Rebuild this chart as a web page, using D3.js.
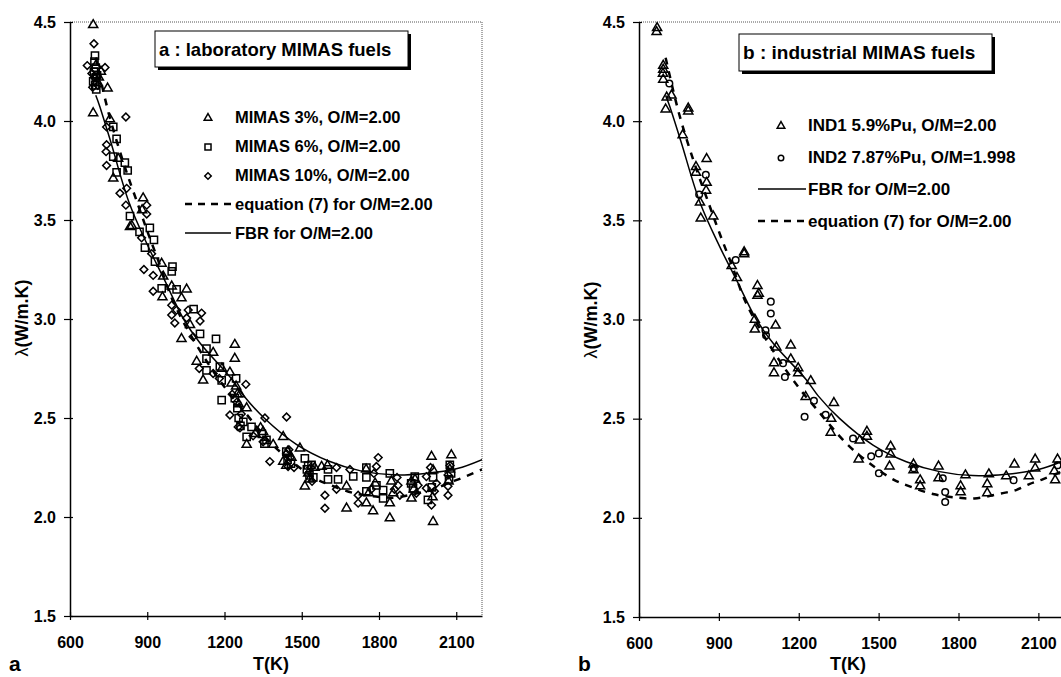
<!DOCTYPE html>
<html>
<head>
<meta charset="utf-8">
<script src="https://d3js.org/d3.v7.min.js"></script>
<style>
  body { margin: 0; background-color: white; }
  text { font-family: Arial, "Liberation Sans", sans-serif; font-weight: bold; fill: black; }
</style>
</head>
<body>
<svg id="canvas" width="1061" height="677"></svg>
<script>
// ---- data (T in K, lambda in W/m.K) ----
const tempTicks = [600, 900, 1200, 1500, 1800, 2100]
const lambdaTicks = [1.5, 2.0, 2.5, 3.0, 3.5, 4.0, 4.5]

// FBR correlation for O/M=2.00
const fbrCurve = [
  [700, 4.13], [714, 4.08], [757, 3.90], [829, 3.59], [904, 3.365], [966, 3.20],
  [1041, 3.00], [1104, 2.88], [1229, 2.695], [1273, 2.615], [1354, 2.50], [1479, 2.367],
  [1604, 2.283], [1729, 2.233], [1854, 2.213], [1979, 2.22], [2104, 2.245], [2200, 2.29]
]
// equation (7) for O/M=2.00
const eq7Curve = [
  [700, 4.32], [750, 4.04], [810, 3.78], [866, 3.57], [904, 3.43], [950, 3.27],
  [1000, 3.09], [1100, 2.85], [1198, 2.66], [1266, 2.55], [1379, 2.375], [1466, 2.275],
  [1554, 2.194], [1604, 2.165], [1704, 2.12], [1804, 2.101], [1860, 2.098], [1960, 2.123],
  [2016, 2.14], [2066, 2.17], [2116, 2.194], [2200, 2.24]
]

// panel a : laboratory MIMAS fuels
const mimas3 = [
  [690, 4.485], [690, 4.04], [746, 4.165], [755, 4.01], [787, 3.81], [768, 3.71], [884, 3.61],
  [833, 3.465], [840, 3.47], [956, 3.28], [959, 3.11], [995, 3.165], [1053, 3.15], [1033, 3.105],
  [1033, 2.90], [1240, 2.87], [1240, 2.80], [1092, 2.785], [1117, 2.69], [1221, 2.73], [1227, 2.675],
  [1286, 2.55], [1286, 2.365], [1428, 2.405], [1428, 2.28], [1493, 2.347], [1512, 2.155], [1577, 2.254],
  [1674, 2.155], [1674, 2.044], [1751, 2.07], [1777, 2.03], [1842, 2.07], [1842, 1.994], [1926, 2.094],
  [2004, 2.305], [2010, 1.976], [2081, 2.313], [1350, 2.43], [1389, 2.365], [1066, 2.97], [962, 3.215],
  [1156, 2.83], [1848, 2.18], [1750, 2.24], [1926, 2.18], [2010, 2.237], [1190, 2.75], [1260, 2.62],
  [1320, 2.42], [880, 3.55], [720, 4.25], [705, 4.2], [1460, 2.30], [1550, 2.25], [1600, 2.26],
  [700, 4.28], [712, 4.22], [1250, 2.62], [1255, 2.57], [1245, 2.66], [1340, 2.45], [1445, 2.33],
  [1440, 2.26], [1525, 2.22], [1530, 2.19], [1760, 2.12], [1785, 2.17], [1855, 2.12], [1935, 2.14],
  [1940, 2.19], [2008, 2.10], [2075, 2.24], [2070, 2.18]
]
const mimas6 = [
  [697, 4.33], [695, 4.30], [693, 4.25], [700, 4.22], [698, 4.18], [768, 3.97], [781, 3.91],
  [768, 3.82], [813, 3.79], [824, 3.75], [781, 3.74], [833, 3.52], [910, 3.46], [891, 3.36],
  [926, 3.40], [930, 3.29], [998, 3.265], [995, 3.24], [956, 3.155], [1014, 3.15], [1105, 2.925],
  [1167, 2.90], [1130, 2.80], [1130, 2.74], [1182, 2.76], [1189, 2.69], [1189, 2.59], [1273, 2.48],
  [1305, 2.455], [1286, 2.405], [1363, 2.39], [1512, 2.296], [1538, 2.263], [1602, 2.24], [1602, 2.19],
  [1641, 2.19], [1700, 2.205], [1751, 2.25], [1751, 2.20], [1751, 2.13], [1790, 2.16], [1816, 2.136],
  [1816, 2.094], [1842, 2.22], [1932, 2.145], [1939, 2.204], [1990, 2.086], [2075, 2.263], [1440, 2.33],
  [1445, 2.29], [1520, 2.24], [1240, 2.60], [1250, 2.55], [870, 3.44], [1080, 3.05], [1130, 2.85],
  [2010, 2.20], [2080, 2.22], [700, 4.27], [705, 4.23], [690, 4.20], [702, 4.16], [1255, 2.50],
  [1245, 2.70], [1262, 2.46], [1345, 2.42], [1355, 2.37], [1458, 2.27], [1525, 2.26], [1530, 2.21],
  [1545, 2.20], [1925, 2.17], [2005, 2.15], [2072, 2.19]
]
const mimas10 = [
  [693, 4.39], [667, 4.28], [736, 4.27], [685, 4.24], [817, 4.02], [742, 3.97], [742, 3.88],
  [740, 3.845], [742, 3.775], [794, 3.635], [820, 3.66], [817, 3.575], [898, 3.575], [898, 3.53],
  [878, 3.41], [917, 3.33], [887, 3.25], [923, 3.22], [923, 3.14], [995, 3.07], [1014, 3.045],
  [995, 3.02], [1007, 2.98], [1111, 3.03], [1105, 2.99], [1078, 2.91], [1102, 2.75], [1156, 2.725],
  [1283, 2.67], [1221, 2.515], [1253, 2.455], [1311, 2.41], [1357, 2.50], [1441, 2.505], [1376, 2.28],
  [1447, 2.255], [1441, 2.32], [1590, 2.11], [1590, 2.044], [1635, 2.25], [1635, 2.14], [1687, 2.24],
  [1719, 2.11], [1719, 2.07], [1797, 2.30], [1790, 2.255], [1874, 2.16], [1881, 2.11], [1952, 2.16],
  [1984, 2.204], [1984, 2.145], [2004, 2.06], [2023, 2.17], [2068, 2.155], [2068, 2.11], [2068, 2.212],
  [1059, 3.045], [1053, 3.005], [1180, 2.70], [1230, 2.62], [1470, 2.25], [695, 4.22], [708, 4.18],
  [688, 4.17], [1260, 2.45], [1248, 2.58], [1265, 2.52], [1350, 2.38], [1455, 2.30], [1450, 2.34],
  [1535, 2.25], [1540, 2.18], [1780, 2.22], [1770, 2.14], [1860, 2.14], [1870, 2.20], [1945, 2.12],
  [2000, 2.25], [2015, 2.13], [2076, 2.26]
]

// panel b : industrial MIMAS fuels
const ind1 = [
  [666, 4.45], [668, 4.47], [691, 4.28], [691, 4.26], [690, 4.24], [691, 4.21], [704, 4.12],
  [722, 4.13], [700, 4.06], [785, 4.065], [785, 4.05], [764, 3.93], [854, 3.81], [814, 3.77],
  [814, 3.74], [854, 3.69], [852, 3.65], [829, 3.59], [832, 3.51], [879, 3.52], [995, 3.34],
  [995, 3.33], [948, 3.27], [968, 3.21], [1045, 3.17], [1045, 3.12], [1050, 3.13], [1035, 3.00],
  [1113, 2.97], [1035, 2.95], [1116, 2.86], [1170, 2.87], [1107, 2.78], [1170, 2.80], [1107, 2.73],
  [1198, 2.755], [1198, 2.73], [1245, 2.69], [1226, 2.61], [1332, 2.58], [1322, 2.50], [1320, 2.43],
  [1429, 2.39], [1456, 2.435], [1456, 2.41], [1425, 2.295], [1545, 2.36], [1545, 2.32], [1541, 2.26],
  [1631, 2.27], [1631, 2.24], [1656, 2.19], [1656, 2.16], [1725, 2.26], [1725, 2.20], [1808, 2.16],
  [1808, 2.13], [1826, 2.215], [1914, 2.22], [1908, 2.17], [1908, 2.125], [1979, 2.21], [2010, 2.27],
  [2064, 2.21], [2088, 2.295], [2088, 2.25], [2172, 2.295], [2160, 2.235], [2163, 2.19]
]
const ind2 = [
  [714, 4.19], [851, 3.73], [826, 3.63], [963, 3.30], [1095, 3.09], [1095, 3.03], [1075, 2.945],
  [1077, 2.92], [1141, 2.78], [1148, 2.71], [1257, 2.59], [1222, 2.51], [1301, 2.52], [1404, 2.40],
  [1472, 2.31], [1501, 2.325], [1501, 2.225], [1741, 2.20], [1750, 2.13], [1750, 2.08], [2007, 2.19],
  [2172, 2.265], [1632, 2.25]
]

const legendA = ['MIMAS 3%, O/M=2.00', 'MIMAS 6%, O/M=2.00', 'MIMAS 10%, O/M=2.00',
  'equation (7) for O/M=2.00', 'FBR for O/M=2.00']
const legendB = ['IND1 5.9%Pu, O/M=2.00', 'IND2 7.87%Pu, O/M=1.998',
  'FBR for O/M=2.00', 'equation (7) for O/M=2.00']

// ---- drawing ----
const svg = d3.select('#canvas')
const tDomain = [600, 2200]
const lDomain = [1.5, 4.5]

const markers = {
  tri: { type: d3.symbolTriangle, size: 36, rot: 0 },
  sq: { type: d3.symbolSquare, size: 52, rot: 0 },
  dia: { type: d3.symbolSquare, size: 30, rot: 45 },
  circ: { type: d3.symbolCircle, size: 34, rot: 0 }
}

function drawMarker (g, kind, cx, cy, scale = 1) {
  const m = markers[kind]
  g.append('path')
    .attr('d', d3.symbol().type(m.type).size(m.size * scale)())
    .attr('transform', `translate(${cx},${cy}) rotate(${m.rot})`)
    .attr('fill', 'none')
    .attr('stroke', 'black')
    .attr('stroke-width', 1.5)
}

function drawPanel (p) {
  const x = d3.scaleLinear().domain(tDomain).range([p.left, p.right])
  const y = d3.scaleLinear().domain(lDomain).range([p.bottom, p.top])
  const g = svg.append('g')

  // dotted top / right frame
  g.append('line')
    .attr('x1', p.left).attr('x2', p.right).attr('y1', p.top).attr('y2', p.top)
    .attr('stroke', '#555').attr('stroke-width', 1).attr('stroke-dasharray', '1,1')
  g.append('line')
    .attr('x1', p.right).attr('x2', p.right).attr('y1', p.top).attr('y2', p.bottom)
    .attr('stroke', '#555').attr('stroke-width', 1).attr('stroke-dasharray', '1,1')

  // axes
  const xAxis = g.append('g')
    .attr('transform', `translate(0,${p.bottom})`)
    .call(d3.axisBottom(x).tickValues(tempTicks).tickFormat(d3.format('d'))
      .tickSizeInner(4).tickSizeOuter(0))
  xAxis.selectAll('.tick line').attr('y1', -4)
  xAxis.selectAll('.tick text').attr('y', 21).attr('font-size', 16)
  const yAxis = g.append('g')
    .attr('transform', `translate(${p.left},0)`)
    .call(d3.axisLeft(y).tickValues(lambdaTicks).tickFormat(d3.format('.1f'))
      .tickSizeInner(6).tickSizeOuter(0).tickPadding(8))
  yAxis.selectAll('.tick line').attr('x1', 3)
  yAxis.selectAll('.tick text').attr('font-size', 16)
  g.selectAll('.domain').attr('stroke', 'black').attr('stroke-width', 1.5)
  g.selectAll('.tick line').attr('stroke', 'black').attr('stroke-width', 1.2)
  g.selectAll('.tick text').attr('fill', 'black')
    .attr('font-family', 'Arial, "Liberation Sans", sans-serif').attr('font-weight', 'bold')

  // clip to plot
  const clipId = 'clip' + p.tag
  svg.append('clipPath').attr('id', clipId).append('rect')
    .attr('x', p.left).attr('y', p.top - 8)
    .attr('width', p.right - p.left).attr('height', p.bottom - p.top + 8)
  const plot = g.append('g').attr('clip-path', `url(#${clipId})`)

  // points
  p.series.forEach(s => {
    s.data.forEach(d => drawMarker(plot, s.marker, x(d[0]), y(d[1])))
  })

  // curves
  const line = d3.line().x(d => x(d[0])).y(d => y(d[1])).curve(d3.curveCatmullRom)
  plot.append('path').datum(fbrCurve).attr('d', line)
    .attr('fill', 'none').attr('stroke', 'black').attr('stroke-width', 1.5)
  plot.append('path').datum(eq7Curve).attr('d', line)
    .attr('fill', 'none').attr('stroke', 'black').attr('stroke-width', 2.5)
    .attr('stroke-dasharray', '7,7')

  // title box with shadow
  const b = p.titleBox
  g.append('rect').attr('x', b.x + 3).attr('y', b.y + 3).attr('width', b.w).attr('height', b.h)
    .attr('fill', 'black')
  g.append('rect').attr('x', b.x).attr('y', b.y).attr('width', b.w).attr('height', b.h)
    .attr('fill', 'white').attr('stroke', 'black').attr('stroke-width', 1)
  g.append('text').attr('x', b.x + 4).attr('y', b.y + b.h / 2 + 6.5)
    .attr('font-size', p.titleSize).text(p.title)

  // legend
  const L = p.legend
  L.items.forEach((it, i) => {
    const cy = L.y + i * L.dy
    if (it.marker) drawMarker(g, it.marker, L.mx, cy + 1, 0.7)
    if (it.line) {
      g.append('line').attr('x1', L.lx1).attr('x2', L.lx2).attr('y1', cy).attr('y2', cy)
        .attr('stroke', 'black')
        .attr('stroke-width', it.line === 'dash' ? 2.5 : 1.4)
        .attr('stroke-dasharray', it.line === 'dash' ? '7,6' : null)
    }
    g.append('text').attr('x', L.tx).attr('y', cy + 6)
      .attr('font-size', L.size).text(it.label)
  })

  // axis titles
  g.append('text').attr('x', (x(600) + x(2200)) / 2 + p.xTitleDx).attr('y', 670)
    .attr('text-anchor', 'middle').attr('font-size', 18).text('T(K)')
  const yl = g.append('text')
    .attr('transform', `translate(${p.yTitleX},${p.yTitleY}) rotate(-90)`)
    .attr('text-anchor', 'middle').attr('font-size', 18)
  yl.append('tspan').attr('font-weight', 'normal').text('λ')
  yl.append('tspan').text('(W/m.K)')

  // panel letter
  g.append('text').attr('x', p.letterX).attr('y', 671).attr('font-size', 21).text(p.tag)
}

drawPanel({
  tag: 'a', left: 70, right: 482, top: 22, bottom: 616,
  series: [
    { data: mimas10, marker: 'dia' },
    { data: mimas6, marker: 'sq' },
    { data: mimas3, marker: 'tri' }
  ],
  title: 'a : laboratory MIMAS fuels', titleSize: 18.5,
  titleBox: { x: 155, y: 31, w: 253, h: 36 },
  legend: {
    mx: 208, tx: 235, lx1: 185, lx2: 231, y: 117, dy: 29, size: 16.5,
    items: [
      { marker: 'tri', label: legendA[0] },
      { marker: 'sq', label: legendA[1] },
      { marker: 'dia', label: legendA[2] },
      { line: 'dash', label: legendA[3] },
      { line: 'solid', label: legendA[4] }
    ]
  },
  xTitleDx: -5, yTitleX: 28, yTitleY: 318, letterX: 9
})

drawPanel({
  tag: 'b', left: 639, right: 1065, top: 22, bottom: 617,
  series: [
    { data: ind2, marker: 'circ' },
    { data: ind1, marker: 'tri' }
  ],
  title: 'b : industrial MIMAS fuels', titleSize: 19,
  titleBox: { x: 739, y: 34, w: 253, h: 37 },
  legend: {
    mx: 781, tx: 808, lx1: 758, lx2: 806, y: 125, dy: 32, size: 17,
    items: [
      { marker: 'tri', label: legendB[0] },
      { marker: 'circ', label: legendB[1] },
      { line: 'solid', label: legendB[2] },
      { line: 'dash', label: legendB[3] }
    ]
  },
  xTitleDx: -4, yTitleX: 597, yTitleY: 320, letterX: 578
})
</script>
</body>
</html>
